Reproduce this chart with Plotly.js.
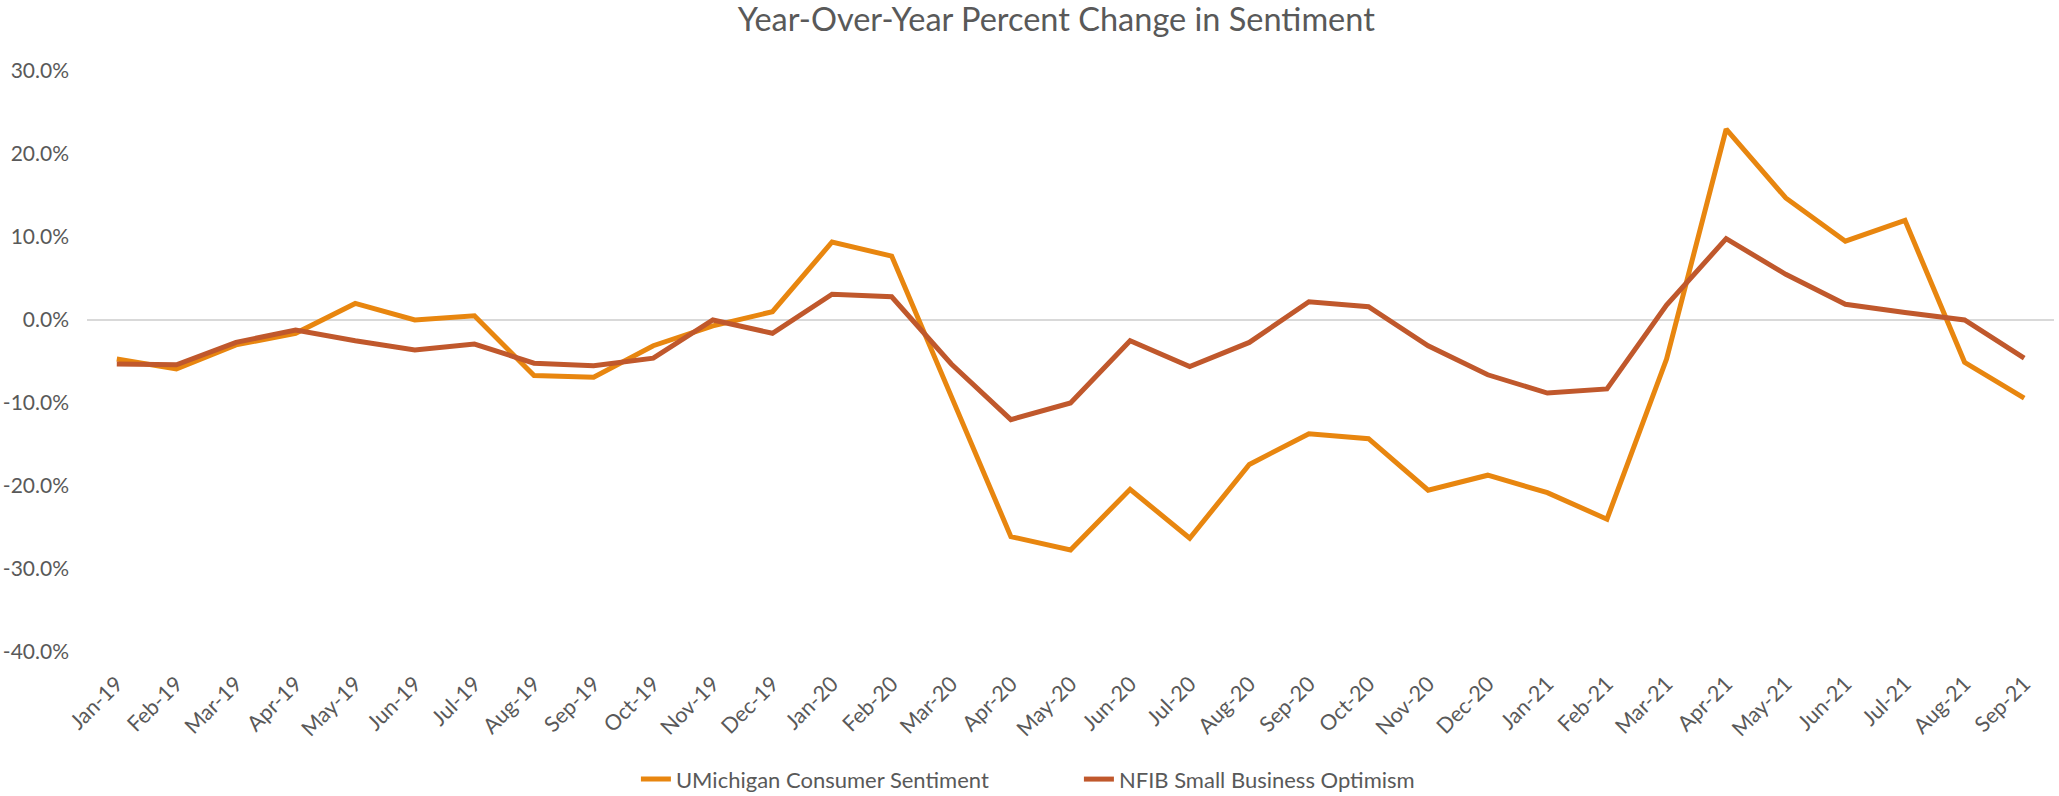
<!DOCTYPE html>
<html>
<head>
<meta charset="utf-8">
<script src="https://cdn.plot.ly/plotly-3.0.1.min.js"></script>
<style>
  html, body { margin: 0; padding: 0; background: #ffffff; }
  #chart { width: 2059px; height: 796px; }
</style>
</head>
<body>
<div id="chart"></div>
<script>
// Categories (months)
const months = [
  "Jan-19","Feb-19","Mar-19","Apr-19","May-19","Jun-19","Jul-19","Aug-19","Sep-19","Oct-19","Nov-19","Dec-19",
  "Jan-20","Feb-20","Mar-20","Apr-20","May-20","Jun-20","Jul-20","Aug-20","Sep-20","Oct-20","Nov-20","Dec-20",
  "Jan-21","Feb-21","Mar-21","Apr-21","May-21","Jun-21","Jul-21","Aug-21","Sep-21"
];

// Year-over-year percent change (values in percent)
const umichSentiment = [
  -4.7, -5.9, -3.0, -1.6, 2.0, 0.0, 0.5, -6.7, -6.9, -3.1, -0.7, 1.0,
  9.4, 7.7, -9.2, -26.1, -27.7, -20.4, -26.3, -17.4, -13.7, -14.3, -20.5, -18.7,
  -20.8, -24.0, -4.7, 23.0, 14.7, 9.5, 12.0, -5.1, -9.4
];

const nfibOptimism = [
  -5.3, -5.4, -2.7, -1.2, -2.5, -3.6, -2.9, -5.2, -5.5, -4.6, 0.0, -1.6,
  3.1, 2.8, -5.3, -12.0, -10.0, -2.5, -5.6, -2.7, 2.2, 1.6, -3.1, -6.6,
  -8.8, -8.3, 1.8, 9.8, 5.5, 1.9, 0.9, 0.0, -4.6
];

const yTicks = [-40, -30, -20, -10, 0, 10, 20, 30];
const yTickText = ["-40.0%", "-30.0%", "-20.0%", "-10.0%", "0.0%", "10.0%", "20.0%", "30.0%"];

const FONT = "Lato, Carlito, 'Open Sans', sans-serif";
const TEXT = "#595959";

const traces = [
  {
    x: months, y: umichSentiment, type: "scatter", mode: "lines",
    name: "UMichigan Consumer Sentiment",
    line: { color: "#E8860F", width: 5, shape: "linear" }
  },
  {
    x: months, y: nfibOptimism, type: "scatter", mode: "lines",
    name: "NFIB Small Business Optimism",
    line: { color: "#C0582C", width: 5, shape: "linear" }
  }
];

const layout = {
  width: 2059, height: 796,
  margin: { l: 87, r: 5, t: 71, b: 144, pad: 0 },
  paper_bgcolor: "#ffffff", plot_bgcolor: "#ffffff",
  font: { family: FONT, color: TEXT, size: 21 },
  title: {
    text: "Year-Over-Year Percent Change in Sentiment",
    font: { family: FONT, size: 32.5, color: TEXT },
    x: 0.513, xanchor: "center", xref: "container",
    y: 0.975, yanchor: "middle", yref: "container"
  },
  xaxis: {
    type: "category",
    categoryorder: "array", categoryarray: months,
    range: [-0.5, months.length - 0.5],
    showgrid: false, zeroline: false, showline: false,
    ticks: "", tickangle: -45, ticklabelstandoff: 14,
    tickfont: { family: FONT, size: 21.5, color: TEXT },
    fixedrange: true
  },
  yaxis: {
    range: [-40, 30],
    tickmode: "array", tickvals: yTicks, ticktext: yTickText,
    showgrid: false, showline: false, ticks: "",
    zeroline: true, zerolinecolor: "#D9D9D9", zerolinewidth: 2,
    ticklabelstandoff: 17,
    tickfont: { family: FONT, size: 21, color: TEXT },
    fixedrange: true
  },
  showlegend: true,
  legend: {
    orientation: "h",
    x: 0.524, xanchor: "center", xref: "container",
    y: 0.021, yanchor: "middle", yref: "container",
    font: { family: FONT, size: 22, color: TEXT },
    itemwidth: 30, tracegroupgap: 0,
    entrywidth: 398, entrywidthmode: "pixels",
    bgcolor: "rgba(0,0,0,0)"
  }
};

Plotly.newPlot("chart", traces, layout, { displayModeBar: false, staticPlot: true });
</script>
</body>
</html>
